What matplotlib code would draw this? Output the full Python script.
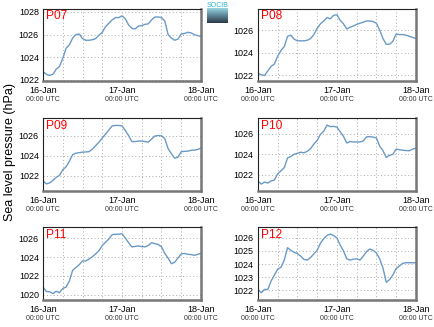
import matplotlib
matplotlib.use("Agg")
import matplotlib.pyplot as plt
from matplotlib.colors import LinearSegmentedColormap
import numpy as np

plt.rcParams['font.family'] = ['Liberation Sans', 'DejaVu Sans']

# hours since 16-Jan 00:00 UTC, hourly
hours = list(range(0, 49))

p07 = [1022.73, 1022.5, 1022.4, 1022.5, 1022.95, 1023.2, 1023.9, 1024.8, 1025.1, 1025.7,
       1026.0, 1026.05, 1025.65, 1025.5, 1025.5, 1025.55, 1025.65, 1025.95, 1026.2, 1026.7,
       1027.0, 1027.3, 1027.5, 1027.5, 1027.65, 1027.4, 1026.85, 1026.55, 1026.5, 1026.75,
       1026.8, 1026.9, 1026.95, 1027.3, 1027.55, 1027.55, 1027.5, 1027.2, 1026.0, 1025.7,
       1025.5, 1025.6, 1026.05, 1026.1, 1026.2, 1026.15, 1026.0, 1025.9, 1025.85]
p08 = [1022.2, 1022.05, 1022.0, 1022.4, 1022.8, 1023.0, 1023.7, 1024.2, 1024.55, 1025.45,
       1025.55, 1025.2, 1025.05, 1025.05, 1025.05, 1025.1, 1025.25, 1025.6, 1026.15, 1026.55,
       1026.8, 1027.1, 1027.0, 1027.3, 1027.35, 1026.85, 1026.55, 1026.1, 1026.25, 1026.35,
       1026.5, 1026.6, 1026.7, 1026.8, 1026.8, 1026.75, 1026.6, 1026.0, 1025.25, 1024.75,
       1024.75, 1025.0, 1025.65, 1025.6, 1025.6, 1025.55, 1025.45, 1025.35, 1025.25]
p09 = [1021.5, 1021.2, 1021.3, 1021.55, 1021.85, 1022.05, 1022.6, 1022.9, 1023.45, 1024.1,
       1024.25, 1024.3, 1024.35, 1024.37, 1024.4, 1024.65, 1025.0, 1025.35, 1025.75, 1026.15,
       1026.55, 1026.95, 1027.0, 1027.0, 1026.95, 1026.5, 1026.0, 1025.4, 1025.4, 1025.45,
       1025.45, 1025.4, 1025.35, 1025.65, 1025.95, 1026.0, 1025.97, 1025.7, 1024.7, 1024.2,
       1023.75, 1023.85, 1024.4, 1024.43, 1024.45, 1024.53, 1024.55, 1024.62, 1024.75]
p10 = [1021.4, 1021.1, 1021.3, 1021.2, 1021.4, 1021.5, 1022.1, 1022.4, 1022.7, 1023.65,
       1023.8, 1024.0, 1024.1, 1024.2, 1024.15, 1024.3, 1024.55, 1025.0, 1025.35, 1025.95,
       1026.25, 1026.85, 1026.7, 1026.72, 1026.65, 1026.2, 1025.75, 1025.1, 1025.25, 1025.2,
       1025.2, 1025.2, 1025.3, 1025.7, 1025.72, 1025.68, 1025.6, 1024.8, 1024.35, 1023.7,
       1023.9, 1024.0, 1024.5, 1024.45, 1024.4, 1024.37, 1024.35, 1024.5, 1024.6]
p11 = [1020.8, 1020.33, 1020.3, 1020.1, 1020.35, 1020.2, 1020.65, 1020.8, 1021.45, 1022.6,
       1022.9, 1023.2, 1023.6, 1023.6, 1023.8, 1024.05, 1024.35, 1024.7, 1025.25, 1025.6,
       1025.95, 1026.4, 1026.45, 1026.45, 1026.5, 1026.04, 1025.55, 1025.1, 1025.15, 1025.2,
       1025.13, 1025.1, 1025.25, 1025.55, 1025.45, 1025.35, 1025.1, 1024.4, 1023.9, 1023.3,
       1023.45, 1023.9, 1024.35, 1024.4, 1024.3, 1024.28, 1024.2, 1024.3, 1024.4]
p12 = [1022.05, 1021.8, 1022.05, 1022.05, 1022.7, 1023.15, 1023.6, 1023.75, 1024.3, 1025.25,
       1025.05, 1024.9, 1024.8, 1024.6, 1024.35, 1024.3, 1024.5, 1024.78, 1025.05, 1025.6,
       1025.95, 1026.2, 1026.3, 1026.18, 1026.0, 1025.45, 1025.0, 1024.4, 1024.3, 1024.37,
       1024.4, 1024.3, 1024.6, 1024.95, 1025.15, 1025.05, 1024.85, 1024.4, 1023.7, 1022.6,
       1022.8, 1023.15, 1023.65, 1023.85, 1024.05, 1024.1, 1024.1, 1024.1, 1024.1]

names = ['P07', 'P08', 'P09', 'P10', 'P11', 'P12']
series = [p07, p08, p09, p10, p11, p12]
ylims = [(1021.9, 1028.3), (1021.5, 1027.9), (1020.5, 1027.7),
         (1020.43, 1027.5), (1019.43, 1027.2), (1021.25, 1026.82)]
yticks = [[1022, 1024, 1026, 1028], [1022, 1024, 1026], [1022, 1024, 1026],
          [1022, 1024, 1026], [1020, 1022, 1024, 1026],
          [1022, 1023, 1024, 1025, 1026]]
day_labels = ['16-Jan', '17-Jan', '18-Jan']
day_hours = [0, 24, 48]

fig = plt.figure(figsize=(4.35, 3.27), dpi=100)

lefts = [0.099, 0.593]
bottoms = [0.752, 0.416, 0.083]
w, h = 0.363, 0.222

for i, (name, vals) in enumerate(zip(names, series)):
    ax = fig.add_axes([lefts[i % 2], bottoms[i // 2], w, h])
    ax.plot(hours, vals, color='#6b9ac6', lw=1.0)
    ax.set_xlim(0, 48)
    ax.set_ylim(*ylims[i])
    ax.set_yticks(yticks[i])
    ax.set_yticklabels([str(t) for t in yticks[i]], fontsize=6.5)
    ax.set_xticks(np.arange(0, 49, 6))
    ax.set_xticklabels([])
    ax.tick_params(length=0, pad=3)
    ax.grid(True, color='#aaaaaa', linestyle=(0, (1, 2.5)), lw=0.7)
    for s in ['left', 'top']:
        ax.spines[s].set_color('#222222')
        ax.spines[s].set_linewidth(0.8)
    for s in ['right', 'bottom']:
        ax.spines[s].set_color('#777777')
        ax.spines[s].set_linewidth(1.8)
    tr = ax.get_xaxis_transform()
    for hx, lab in zip(day_hours, day_labels):
        ax.text(hx, -0.07, lab, transform=tr, ha='center', va='top', fontsize=6.5)
        ax.text(hx, -0.21, '00:00 UTC', transform=tr, ha='center', va='top',
                fontsize=5, color='#333333')
    ax.text(0.02, 0.98, name, transform=ax.transAxes, ha='left', va='top',
            fontsize=8.6, color='red')

fig.text(0.022, 0.535, 'Sea level pressure (hPa)', rotation=90, ha='center',
         va='center', fontsize=9)

# small logo block between the top panels
logo_cmap = LinearSegmentedColormap.from_list('logo', ['#9fdce8', '#5f8a9a', '#2f3d4a'])
logo = fig.add_axes([0.476, 0.93, 0.048, 0.046])
logo.imshow(np.linspace(0, 1, 20).reshape(-1, 1), cmap=logo_cmap, aspect='auto')
logo.axis('off')
fig.text(0.5, 0.993, 'SOCIB', color='#2ab6d6', fontsize=5, ha='center', va='top')

fig.savefig('out.png', dpi=100)
